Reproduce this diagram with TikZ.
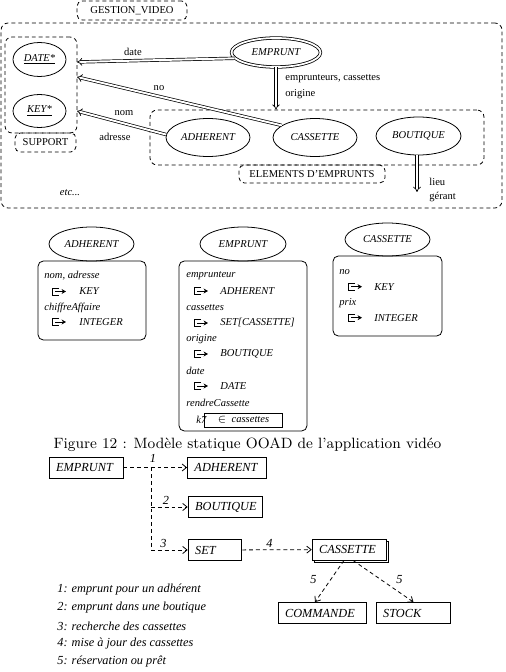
\documentclass[tikz,border=0pt]{standalone}
\usepackage{fontspec}
\newfontfamily\tf{Liberation Serif}
\usetikzlibrary{shapes.geometric, arrows.meta, shadows, calc}

\tikzset{
  dsh/.style={dash pattern=on 2.2pt off 1.7pt},
  grp/.style={draw, dsh, rounded corners=4pt, inner sep=0pt},
  tag/.style={grp, rounded corners=3pt, font=\tf\fontsize{6}{7}\selectfont},
  ent/.style={ellipse, draw, inner sep=0pt, font=\tf\itshape\fontsize{6}{7}\selectfont},
  txt/.style={inner sep=0pt, font=\tf\fontsize{6}{7}\selectfont},
  itx/.style={inner sep=0pt, anchor=west, font=\tf\itshape\fontsize{6}{7}\selectfont},
  dbl/.style={double, double distance=1.1pt, line width=0.4pt, -{Implies[length=3.2pt, width=5pt]}},
  frame/.style={draw, rounded corners=3pt, inner sep=0pt},
  cls/.style={draw, inner xsep=4pt, inner ysep=0pt, minimum height=0.42cm,
    text width=#1, align=left, font=\tf\itshape\fontsize{7}{8}\selectfont},
  flow/.style={dsh, -{Straight Barb[length=2.5pt, width=4pt]}},
  leg/.style={inner sep=0pt, anchor=west, font=\tf\itshape\fontsize{7}{8}\selectfont},
  typ/.pic={
    \draw (7,-3.5) -- (0,-3.5) -- (0,3.5) -- (7,3.5);
    \draw[-{Stealth[length=2.5pt, width=2.8pt]}] (3,0) -- (14,0);
  }
}

\begin{document}
\begin{tikzpicture}[x=0.02cm, y=-0.02cm, line width=0.45pt]
  \useasboundingbox (0,0) rectangle (505,672);

  % Schema global
  \node[grp, minimum width=10.02cm, minimum height=3.7cm] (gv) at (251.5,115.5) {};
  \node[tag, minimum width=2.2cm, minimum height=0.38cm] (gvtag) at (132,10.5) {GESTION\_VIDEO};

  \node[grp, minimum width=1.44cm, minimum height=1.92cm] (sup) at (41,85) {};
  \node[tag, minimum width=1.22cm, minimum height=0.38cm] (suptag) at (45.5,142.5) {SUPPORT};
  \node[ent, minimum width=1.06cm, minimum height=0.68cm] (date) at (39.5,59.5) {\underline{DATE*}};
  \node[ent, minimum width=1.06cm, minimum height=0.66cm] (key) at (39.5,111) {\underline{KEY*}};

  \node[grp, minimum width=6.68cm, minimum height=1.1cm] (elem) at (317,137.5) {};
  \node[tag, minimum width=2.92cm, minimum height=0.36cm] (elemtag) at (312,174) {ELEMENTS D’EMPRUNTS};
  \node[ent, minimum width=1.68cm, minimum height=0.76cm] (adh) at (208,137.5) {ADHERENT};
  \node[ent, minimum width=1.68cm, minimum height=0.76cm] (cas) at (315,137.5) {CASSETTE};
  \node[ent, minimum width=1.7cm, minimum height=0.76cm] (bou) at (418.5,136) {BOUTIQUE};

  \node[ent, double, double distance=1pt, minimum width=1.78cm, minimum height=0.58cm] (emp) at (276,52.5) {EMPRUNT};

  \coordinate (s1) at (77,62);
  \coordinate (s2) at (77,77);
  \coordinate (s3) at (77,111);
  \coordinate (b1) at (417,192);

  \draw[dbl] (emp.188) -- (s1);
  \draw[dbl] (cas.160) -- (s2);
  \draw[dbl] (adh.176) -- (s3);
  \draw[dbl] (emp.south) -- (emp.south |- elem.north);
  \draw[dbl] (bou.south -| b1) -- (b1);

  \node[txt] (ldate) at (133,51.7) {date};
  \node[txt] (lno) at (159,88) {no};
  \node[txt] (lnom) at (124,113) {nom};
  \node[txt] (ladr) at (115,136.7) {adresse};
  \node[txt, anchor=west] (lemp) at (285,79) {emprunteurs, cassettes};
  \node[txt, anchor=west] (lori) at (285,93.7) {origine};
  \node[txt, anchor=west] (llieu) at (429,181.7) {lieu};
  \node[txt, anchor=west] (lger) at (429,197) {gérant};
  \node[txt, font=\tf\itshape\fontsize{6}{7}\selectfont] (etc) at (70,193) {etc...};

  % Classes
  \node[ent, minimum width=1.7cm, minimum height=0.68cm] (c1) at (91.5,244) {ADHERENT};
  \node[ent, minimum width=1.72cm, minimum height=0.68cm] (c2) at (243,244) {EMPRUNT};
  \node[ent, minimum width=1.7cm, minimum height=0.66cm] (c3) at (387.5,239.5) {CASSETTE};
  \node[frame, minimum width=2.16cm, minimum height=1.58cm] (f1) at (92,300.5) {};
  \node[frame, minimum width=2.56cm, minimum height=3.4cm] (f2) at (243,346) {};
  \node[frame, minimum width=2.18cm, minimum height=1.6cm] (f3) at (387.5,296) {};

  \node[itx] (a1) at (44,276) {nom, adresse};
  \pic at (52,291.5) {typ};
  \node[itx] (a2) at (79,291.5) {KEY};
  \node[itx] (a3) at (44,307.7) {chiffreAffaire};
  \pic at (52,322) {typ};
  \node[itx] (a4) at (79,322) {INTEGER};

  \node[itx] (e1) at (186,276) {emprunteur};
  \pic at (194,291) {typ};
  \node[itx] (e2) at (220,291) {ADHERENT};
  \node[itx] (e3) at (186,308) {cassettes};
  \pic at (194,323) {typ};
  \node[itx] (e4) at (220,323) {SET[CASSETTE]};
  \node[itx] (e5) at (186,339) {origine};
  \pic at (194,354) {typ};
  \node[itx] (e6) at (220,354) {BOUTIQUE};
  \node[itx] (e7) at (186,371) {date};
  \pic at (194,386) {typ};
  \node[itx] (e8) at (220,386) {DATE};
  \node[itx] (e9) at (186,403) {rendreCassette};
  \node[itx] (e10) at (196,420) {k7};
  \node[itx, draw, inner xsep=1.5pt, minimum width=1.56cm, minimum height=0.28cm] (e11) at (204,420) {$\in$\ \ cassettes};

  \node[itx] (k1) at (339,271.7) {no};
  \pic at (348,286.7) {typ};
  \node[itx] (k2) at (374,286.7) {KEY};
  \node[itx] (k3) at (339,303.3) {prix};
  \pic at (348,317.7) {typ};
  \node[itx] (k4) at (374,317.7) {INTEGER};

  \node[inner sep=0pt, font=\fontsize{8.5}{10}\selectfont] (cap) at (247.5,445)
    {Figure 12 : Modèle statique OOAD de l’application vidéo};

  % Interactions
  \node[cls=34pt] (emp2) at (86,467.5) {EMPRUNT};
  \node[cls=37pt] (adh2) at (227,467.5) {ADHERENT};
  \node[cls=34pt] (bou2) at (225,507) {BOUTIQUE};
  \node[cls=22.6pt] (set) at (215,550) {SET};
  \node[cls=34pt, fill=white, copy shadow={shadow xshift=1.3pt, shadow yshift=-1.3pt}] (cas2) at (349,549.5) {CASSETTE};
  \node[cls=42pt] (cmd) at (322,613) {COMMANDE};
  \node[cls=34.5pt] (stk) at (413.5,613) {STOCK};

  \coordinate (j1) at (151,467.5);
  \coordinate (j2) at (151,507);
  \coordinate (j3) at (151,550);

  \draw[flow] (emp2) -- (adh2);
  \draw[dsh] (j1) -- (j3);
  \draw[flow] (j2) -- (bou2);
  \draw[flow] (j3) -- (set);
  \draw[flow] (set) -- (cas2);
  \draw[flow] ($(cas2.south)+(-5,0)$) -- ($(cmd.north)+(-7,0)$);
  \draw[flow] ($(cas2.south)+(4,0)$) -- (stk.north);

  \node[leg] (n1) at (149.5,458) {1};
  \node[leg] (n2) at (162.5,500) {2};
  \node[leg] (n3) at (160,543) {3};
  \node[leg] (n4) at (266,543) {4};
  \node[leg] (n5) at (310,580) {5};
  \node[leg] (n6) at (396,580) {5};

  \node[leg] (g1) at (57,590) {1: emprunt pour un adhérent};
  \node[leg] (g2) at (57,608) {2: emprunt dans une boutique};
  \node[leg] (g3) at (57,626) {3: recherche des cassettes};
  \node[leg] (g4) at (57,644) {4: mise à jour des cassettes};
  \node[leg] (g5) at (57,662) {5: réservation ou prêt};
\end{tikzpicture}
\end{document}
